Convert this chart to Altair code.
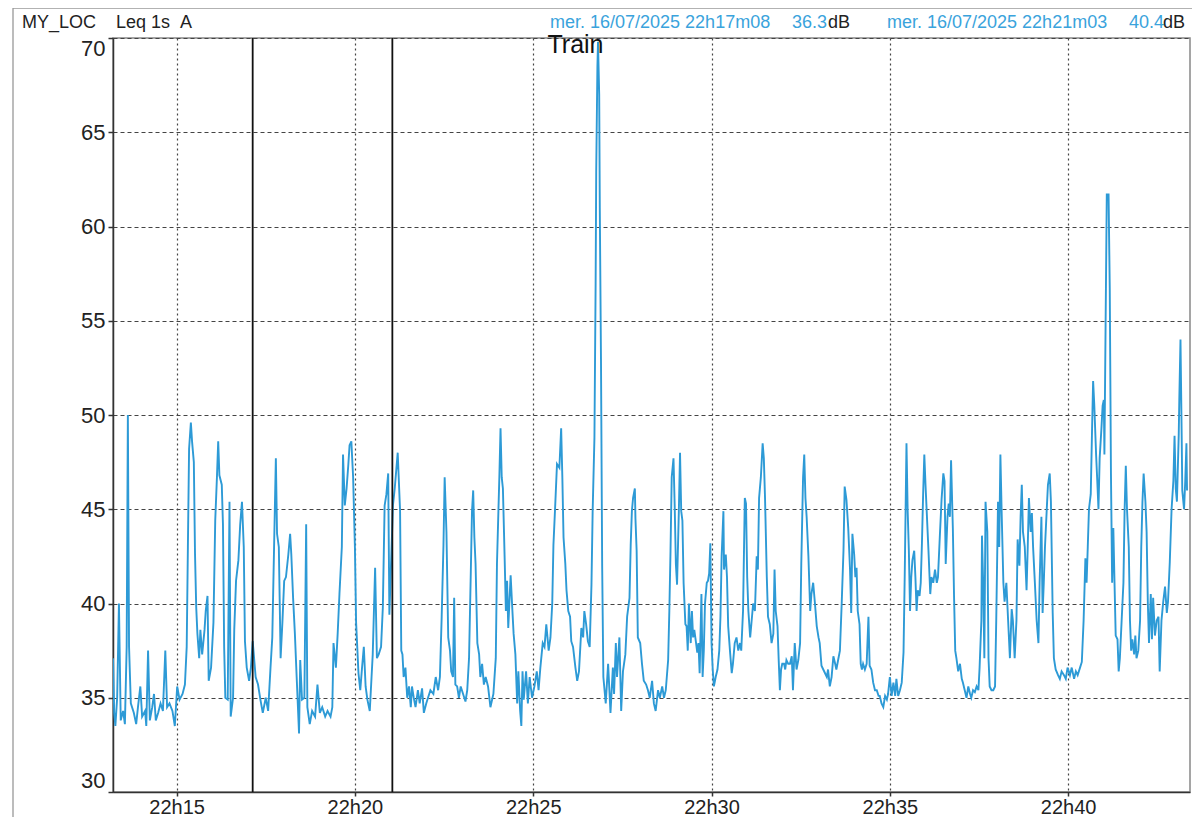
import altair as alt
import pandas as pd

# ---------------- data ----------------
# seconds after 22:13:00 on 16/07/2025
secs = [
    13, 15, 17, 20, 23, 26, 30, 33, 36, 38,
    40, 43, 48, 52, 55, 59, 62, 67, 69, 72,
    75, 79, 82, 85, 89, 93, 97, 101, 104, 108,
    113, 117, 121, 125, 130, 134, 137, 139, 141, 144,
    146, 149, 151, 153, 155, 158, 160, 163, 167, 169,
    172, 174, 178, 182, 185, 188, 190, 192, 196, 198,
    200, 202, 206, 209, 211, 215, 217, 220, 224, 227,
    230, 233, 235, 238, 242, 245, 248, 253, 257, 261,
    265, 270, 274, 278, 281, 284, 287, 289, 292, 295,
    298, 301, 304, 308, 311, 313, 316, 319, 322, 326,
    328, 331, 335, 338, 340, 344, 348, 353, 357, 361,
    365, 370, 374, 379, 382, 384, 388, 391, 394, 398,
    400, 403, 406, 409, 411, 414, 417, 420, 422, 426,
    429, 432, 435, 438, 441, 445, 448, 450, 454, 457,
    460, 464, 467, 470, 473, 476, 478, 481, 484, 487,
    492, 496, 498, 500, 502, 505, 508, 511, 514, 516,
    519, 522, 526, 529, 533, 536, 540, 543, 547, 552,
    556, 560, 563, 566, 569, 571, 574, 577, 580, 582,
    585, 587, 589, 592, 595, 598, 602, 606, 609, 612,
    615, 617, 619, 621, 623, 626, 629, 631, 634, 637,
    640, 644, 648, 653, 657, 659, 663, 665, 667, 669,
    672, 674, 676, 678, 682, 685, 687, 690, 693, 695,
    698, 700, 702, 704, 708, 711, 714, 718, 722, 726,
    729, 732, 736, 739, 742, 746, 749, 752, 754, 757,
    760, 764, 767, 769, 771, 774, 776, 779, 782, 784,
    787, 791, 794, 797, 801, 804, 806, 809, 812, 815,
    818, 820, 823, 825, 826, 828, 829, 831, 832, 834,
    836, 838, 842, 846, 850, 854, 856, 859, 861, 865,
    868, 871, 875, 878, 882, 884, 886, 888, 891, 892,
    894, 896, 900, 903, 906, 910, 913, 916, 920, 923,
    926, 930, 933, 937, 940, 943, 947, 949, 951, 953,
    956, 958, 960, 962, 965, 967, 969, 971, 973, 976,
    978, 980, 982, 985, 987, 989, 991, 994, 996, 998,
    1000, 1003, 1005, 1007, 1009, 1012, 1014, 1016, 1018, 1020,
    1022, 1024, 1027, 1030, 1033, 1035, 1037, 1040, 1041, 1044,
    1046, 1048, 1051, 1054, 1056, 1059, 1062, 1065, 1068, 1070,
    1073, 1076, 1078, 1080, 1082, 1085, 1087, 1090, 1093, 1096,
    1098, 1100, 1103, 1106, 1108, 1110, 1113, 1115, 1118, 1121,
    1124, 1126, 1128, 1131, 1133, 1135, 1137, 1139, 1142, 1144,
    1146, 1149, 1152, 1155, 1157, 1160, 1163, 1166, 1169, 1171,
    1174, 1176, 1178, 1180, 1183, 1186, 1188, 1191, 1194, 1197,
    1200, 1202, 1205, 1208, 1211, 1214, 1216, 1219, 1222, 1225,
    1228, 1230, 1233, 1236, 1239, 1242, 1244, 1247, 1250, 1253,
    1255, 1257, 1260, 1262, 1264, 1266, 1269, 1271, 1273, 1275,
    1278, 1281, 1284, 1286, 1289, 1292, 1295, 1298, 1301, 1303,
    1306, 1309, 1312, 1315, 1317, 1320, 1323, 1326, 1329, 1331,
    1334, 1337, 1340, 1343, 1345, 1348, 1350, 1352, 1354, 1356,
    1358, 1361, 1363, 1365, 1367, 1370, 1372, 1374, 1376, 1378,
    1380, 1382, 1385, 1388, 1390, 1393, 1396, 1399, 1401, 1404,
    1407, 1410, 1412, 1414, 1417, 1419, 1421, 1423, 1426, 1428,
    1430, 1432, 1435, 1438, 1441, 1443, 1446, 1449, 1452, 1455,
    1457, 1460, 1463, 1466, 1469, 1471, 1474, 1475, 1477, 1479,
    1481, 1484, 1486, 1488, 1491, 1494, 1497, 1499, 1502, 1504,
    1506, 1508, 1511, 1513, 1516, 1519, 1522, 1525, 1527, 1530,
    1533, 1535, 1538, 1540, 1542, 1544, 1547, 1550, 1552, 1554,
    1557, 1559, 1561, 1564, 1567, 1570, 1572, 1575, 1577, 1579,
    1581, 1584, 1586, 1589, 1591, 1594, 1596, 1599, 1603, 1606,
    1609, 1613, 1616, 1619, 1623, 1626, 1630, 1633, 1636, 1640,
    1643, 1646, 1649, 1651, 1653, 1655, 1658, 1660, 1662, 1664,
    1667, 1669, 1671, 1673, 1676, 1678, 1680, 1681, 1683, 1685,
    1688, 1690, 1692, 1694, 1696, 1698, 1700, 1703, 1705, 1707,
    1710, 1713, 1715, 1717, 1719, 1722, 1724, 1726, 1728, 1731,
    1733, 1735, 1738, 1741, 1743, 1745, 1747, 1750, 1752, 1754,
    1756, 1759, 1761, 1763, 1766, 1769, 1772, 1774, 1777, 1780,
    1783, 1786, 1788, 1791, 1794, 1797, 1799, 1801, 1803, 1806,
    1807, 1809, 1811, 1812, 1815, 1817, 1819, 1820,
]

# Leq 1s A level, dB
levels = [
    37.1, 34.2, 33.5, 35.0, 40.0, 33.8, 34.3, 33.6, 37.7, 50.0,
    37.7, 34.7, 34.2, 33.6, 34.5, 35.6, 34.0, 34.3, 33.5, 37.5,
    33.8, 34.5, 35.2, 33.8, 34.2, 34.7, 34.3, 37.5, 34.5, 34.7,
    34.3, 33.5, 35.6, 34.9, 35.2, 35.7, 37.7, 43.0, 48.2, 49.6,
    48.6, 47.5, 42.6, 39.8, 38.4, 37.1, 38.6, 37.3, 38.6, 39.6,
    40.4, 35.9, 36.6, 39.0, 44.4, 46.8, 48.6, 46.8, 46.3, 44.2,
    37.7, 35.0, 34.9, 45.4, 34.0, 35.0, 38.6, 41.2, 42.3, 44.2,
    45.4, 43.0, 38.0, 36.6, 35.9, 36.6, 38.0, 36.1, 35.7, 34.9,
    34.2, 35.0, 34.3, 36.6, 38.2, 43.0, 47.7, 43.7, 43.0, 37.1,
    39.0, 41.2, 41.4, 42.6, 43.7, 42.6, 40.3, 38.4, 36.1, 33.1,
    37.0, 34.9, 35.0, 44.2, 34.5, 33.6, 34.3, 34.0, 35.7, 34.2,
    34.5, 34.0, 34.3, 34.0, 34.5, 37.9, 36.6, 38.4, 40.5, 43.0,
    47.9, 45.2, 46.1, 47.4, 48.4, 48.6, 46.7, 43.0, 39.0, 36.3,
    35.4, 36.6, 37.7, 35.6, 34.9, 34.3, 36.1, 37.3, 41.9, 37.1,
    37.3, 37.7, 39.8, 45.2, 45.8, 46.9, 39.4, 42.3, 45.2, 46.1,
    48.0, 44.9, 37.5, 37.3, 36.1, 36.6, 35.0, 35.6, 34.5, 35.6,
    35.0, 34.5, 35.4, 34.7, 35.5, 34.2, 34.7, 35.0, 35.4, 35.2,
    36.1, 35.4, 36.1, 39.3, 43.1, 46.7, 43.8, 38.2, 37.5, 36.4,
    36.1, 40.3, 35.7, 35.6, 35.0, 35.6, 35.2, 34.8, 35.4, 37.1,
    41.7, 44.9, 46.0, 43.5, 42.1, 37.9, 37.3, 36.1, 36.8, 35.7,
    36.1, 35.6, 34.5, 35.2, 37.1, 42.1, 46.7, 49.3, 46.7, 46.1,
    42.3, 39.6, 41.2, 38.7, 41.5, 39.6, 38.4, 37.3, 34.7, 36.4,
    34.3, 33.5, 36.4, 34.9, 36.4, 34.7, 36.1, 35.0, 35.6, 36.4,
    35.4, 36.6, 37.9, 37.7, 38.9, 37.5, 38.2, 40.0, 43.1, 45.2,
    47.4, 47.2, 49.3, 46.7, 43.5, 42.1, 40.7, 39.6, 39.3, 38.0,
    37.7, 36.6, 35.9, 36.4, 38.7, 38.2, 39.6, 38.9, 38.0, 37.7,
    41.0, 44.9, 48.8, 57.0, 63.0, 68.5, 69.8, 67.0, 61.0, 53.0,
    42.0, 36.1, 34.7, 36.8, 34.2, 36.6, 35.2, 37.9, 36.1, 38.2,
    34.3, 36.4, 37.3, 39.3, 40.3, 43.1, 44.9, 45.6, 46.1, 44.5,
    42.8, 38.2, 37.9, 36.8, 35.9, 35.7, 35.4, 35.0, 35.9, 34.7,
    34.3, 35.4, 35.0, 35.6, 35.0, 35.4, 37.0, 39.6, 42.8, 46.7,
    47.7, 45.2, 42.1, 41.0, 44.9, 48.0, 44.9, 44.4, 41.1, 38.9,
    38.8, 37.5, 40.0, 37.9, 39.6, 38.2, 38.6, 37.9, 37.4, 37.9,
    36.3, 40.5, 36.1, 37.5, 40.0, 41.1, 41.2, 41.6, 43.2, 37.9,
    36.5, 35.6, 36.1, 36.5, 37.5, 39.3, 42.5, 44.9, 41.8, 42.6,
    41.4, 38.8, 37.5, 36.3, 36.8, 37.9, 38.2, 37.5, 37.9, 37.5,
    39.6, 45.6, 45.3, 41.4, 39.6, 38.2, 38.9, 40.0, 39.6, 42.5,
    41.8, 45.6, 46.7, 48.5, 47.7, 45.6, 41.4, 39.3, 38.9, 37.9,
    38.4, 41.8, 39.6, 38.8, 37.0, 35.4, 36.5, 36.8, 36.8, 36.5,
    37.0, 36.8, 36.8, 37.2, 35.4, 37.9, 36.5, 37.0, 37.9, 42.1,
    46.7, 47.9, 45.6, 44.6, 42.5, 39.6, 40.5, 41.1, 40.0, 38.8,
    38.2, 37.9, 36.7, 36.5, 36.3, 36.1, 36.5, 35.6, 36.1, 37.2,
    36.8, 36.5, 37.0, 37.5, 40.0, 42.8, 46.2, 45.5, 44.0, 41.8,
    39.5, 43.7, 42.6, 41.4, 41.9, 39.6, 38.9, 36.8, 36.5, 36.8,
    36.5, 36.8, 39.3, 36.7, 36.5, 35.8, 35.4, 35.4, 35.1, 35.1,
    34.7, 34.5, 35.1, 34.9, 35.2, 36.1, 35.1, 35.8, 35.1, 36.0,
    35.1, 35.4, 35.8, 37.4, 41.4, 48.5, 44.9, 42.8, 39.6, 41.4,
    42.3, 42.8, 41.4, 39.6, 40.7, 40.4, 41.1, 43.2, 45.8, 47.9,
    46.3, 44.9, 42.8, 40.5, 41.4, 41.1, 41.8, 41.1, 41.4, 43.5,
    45.5, 46.9, 46.5, 42.1, 44.6, 45.3, 44.6, 47.6, 44.0, 40.4,
    37.5, 37.1, 36.4, 36.8, 36.0, 35.8, 35.4, 35.0, 35.6, 35.2,
    35.0, 35.4, 35.3, 35.6, 35.4, 36.6, 39.1, 43.6, 41.1, 37.1,
    45.4, 43.8, 37.1, 35.6, 35.4, 35.4, 35.6, 39.1, 45.4, 43.0,
    47.9, 45.0, 41.1, 40.1, 41.1, 39.1, 37.1, 39.7, 39.1, 37.1,
    39.1, 43.4, 42.0, 44.6, 46.3, 43.8, 43.0, 40.7, 43.0, 45.6,
    43.8, 44.8, 43.0, 41.1, 39.1, 37.9, 41.1, 44.6, 39.5, 41.1,
    43.0, 45.0, 46.3, 46.9, 45.4, 39.5, 37.1, 36.5, 36.2, 36.0,
    36.4, 36.2, 36.0, 36.6, 36.2, 36.6, 36.0, 36.4, 36.2, 36.6,
    36.9, 39.1, 42.4, 41.1, 43.0, 45.0, 45.8, 48.9, 51.8, 50.5,
    47.9, 46.5, 45.0, 47.7, 49.3, 50.5, 50.8, 47.9, 54.8, 61.7,
    61.7, 56.7, 46.9, 41.1, 44.0, 41.1, 38.3, 38.1, 36.4, 37.1,
    39.1, 41.1, 45.0, 47.3, 45.0, 43.0, 39.1, 37.5, 38.1, 37.3,
    38.3, 37.1, 37.5, 39.1, 43.0, 45.4, 46.9, 45.4, 43.8, 40.1,
    37.9, 40.5, 38.1, 40.3, 38.3, 39.1, 39.3, 36.4, 39.1, 40.1,
    40.9, 39.5, 40.1, 42.2, 45.0, 46.5, 48.9, 46.1, 45.4, 48.9,
    50.8, 54.0, 48.9, 46.0, 45.0, 46.5, 48.5, 46.0,
]

cursor_times = ["22:17:08", "22:21:03"]
cursor_labels = ["mer. 16/07/2025 22h17m08", "mer. 16/07/2025 22h21m03"]
cursor_values = ["36.3", "40.4"]

note_text = ["Train"]
note_time = ["22:25:24"]
note_level = [69.2]

y_ticks = [30, 35, 40, 45, 50, 55, 60, 65, 70]
x_tick_minutes = [15, 20, 25, 30, 35, 40]

# ---------------- build tables ----------------
DAY = "2025-07-16 "
base = pd.Timestamp(DAY + "22:13:00")
n = min(len(secs), len(levels))
df = pd.DataFrame({
    "time": [base + pd.Timedelta(seconds=s) for s in secs[:n]],
    "level": levels[:n],
})
cur_df = pd.DataFrame({"time": [pd.Timestamp(DAY + t) for t in cursor_times]})
note_df = pd.DataFrame({
    "time": [pd.Timestamp(DAY + t) for t in note_time],
    "level": note_level,
    "text": note_text,
})

FONT = "Liberation Sans"
BLUE_LINE = "#2d9ad6"
BLUE_TEXT = "#3aa3dc"

W, H = 1077, 754
PAD_L, PAD_T, PAD_R, PAD_B = 105, 30, 2, 25

x_domain = [
    alt.DateTime(year=2025, month=7, date=16, hours=22, minutes=13, seconds=13),
    alt.DateTime(year=2025, month=7, date=16, hours=22, minutes=43, seconds=25),
]
x_values = [alt.DateTime(year=2025, month=7, date=16, hours=22, minutes=m) for m in x_tick_minutes]

x_enc = alt.X(
    "time:T",
    scale=alt.Scale(domain=x_domain, nice=False),
    axis=alt.Axis(
        title=None, values=x_values, format="%Hh%M", labelFont=FONT, labelFontSize=20,
        labelColor="#222", labelPadding=1, tickSize=4, tickColor="#333", tickWidth=1.5,
        domainColor="#333", domainWidth=1.5, grid=True, gridDash=[2, 3],
        gridColor="#444", gridWidth=1.2, labelFlush=False,
    ),
)
y_enc = alt.Y(
    "level:Q",
    scale=alt.Scale(domain=[30, 70], nice=False, zero=False),
    axis=alt.Axis(
        title=None, values=y_ticks, labelFont=FONT, labelFontSize=22, labelColor="#222",
        labelPadding=3, tickSize=5, tickColor="#333", tickWidth=1.5, domainColor="#333",
        domainWidth=1.5, grid=True, gridDash=[4, 3], gridColor="#444", gridWidth=1.2,
        labelFlush=True, labelFlushOffset=0,
    ),
)

line = alt.Chart(df).mark_line(color=BLUE_LINE, strokeWidth=1.9, clip=True).encode(
    x=x_enc, y=y_enc
)

cursors = alt.Chart(cur_df).mark_rule(color="#111", strokeWidth=1.8).encode(x="time:T")

note = alt.Chart(note_df).mark_text(
    align="left", baseline="alphabetic", font=FONT, fontSize=25, color="#111"
).encode(x="time:T", y="level:Q", text="text:N")

one = alt.Data(values=[{}])

frame = alt.Chart(one).mark_rect(fillOpacity=0, stroke="#999", strokeWidth=1.3).encode(
    x=alt.value(-100), x2=alt.value(W + 5), y=alt.value(-30), y2=alt.value(H + 200)
)


def htext(txt, xpos, color="#222"):
    return alt.Chart(one).mark_text(
        align="left", baseline="alphabetic", font=FONT, fontSize=18, color=color
    ).encode(x=alt.value(xpos - 113), y=alt.value(-10), text=alt.value(txt))


header = [
    htext("MY_LOC", 22),
    htext("Leq 1s", 116),
    htext("A", 180),
    htext(cursor_labels[0], 550, BLUE_TEXT),
    htext(cursor_values[0], 792, BLUE_TEXT),
    htext("dB", 828),
    htext(cursor_labels[1], 887, BLUE_TEXT),
    htext(cursor_values[1], 1129, BLUE_TEXT),
    htext("dB", 1163),
]

chart = alt.layer(frame, line, cursors, note, *header).properties(
    width=W,
    height=H,
    autosize=alt.AutoSizeParams(type="none"),
    padding={"left": PAD_L, "top": PAD_T, "right": PAD_R, "bottom": PAD_B},
    background="white",
).configure_view(stroke="#888", strokeWidth=1.5)

chart.save("out.html", embed_options={"renderer": "svg", "actions": False})
